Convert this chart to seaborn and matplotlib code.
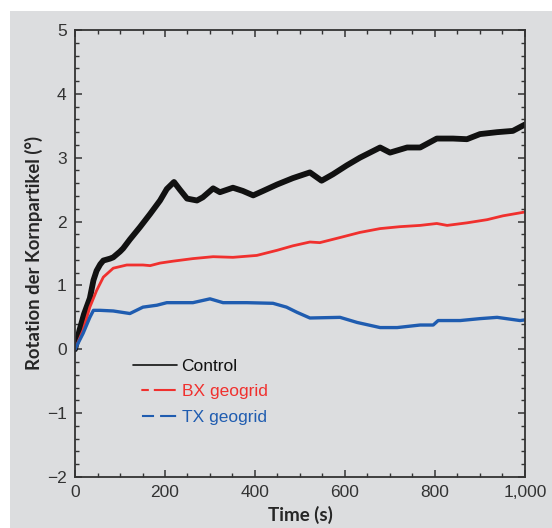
import numpy as np
import pandas as pd
import matplotlib
matplotlib.use('Agg')
import matplotlib.pyplot as plt
from matplotlib.lines import Line2D
from matplotlib.patches import Rectangle
from matplotlib.ticker import FuncFormatter, MultipleLocator
import seaborn as sns

# values (time in s, rotation in degrees)
t_control = [0, 10, 20, 33, 41, 48, 56, 63, 78, 85, 100, 107, 122, 144, 167,
             189, 204, 220, 233, 249, 271, 284, 307, 322, 351, 373, 396, 418,
             449, 484, 522, 548, 573, 604, 633, 678, 700, 738, 767, 804, 840,
             871, 900, 938, 973, 1000]
y_control = [0, 0.3, 0.55, 0.8, 1.08, 1.23, 1.33, 1.39, 1.42, 1.44, 1.53, 1.58,
             1.72, 1.91, 2.12, 2.33, 2.51, 2.62, 2.50, 2.36, 2.33, 2.38, 2.52,
             2.46, 2.53, 2.48, 2.41, 2.48, 2.58, 2.68, 2.77, 2.64, 2.74, 2.88,
             3.0, 3.16, 3.08, 3.16, 3.16, 3.30, 3.30, 3.29, 3.37, 3.40, 3.42,
             3.52]

t_bx = [0, 18, 33, 48, 63, 85, 115, 151, 167, 189, 218, 262, 307, 351, 404,
        449, 484, 522, 544, 589, 633, 678, 722, 767, 804, 827, 871, 916, 951,
        1000]
y_bx = [0, 0.3, 0.66, 0.92, 1.13, 1.27, 1.32, 1.32, 1.31, 1.35, 1.38, 1.42,
        1.45, 1.44, 1.47, 1.55, 1.62, 1.68, 1.67, 1.75, 1.83, 1.89, 1.92, 1.94,
        1.97, 1.94, 1.98, 2.03, 2.09, 2.15]

t_tx = [0, 18, 33, 41, 56, 85, 122, 151, 182, 204, 262, 300, 329, 382, 440,
        470, 493, 522, 589, 627, 678, 716, 767, 796, 807, 856, 900, 938, 989,
        1000]
y_tx = [0, 0.25, 0.5, 0.61, 0.61, 0.6, 0.56, 0.66, 0.69, 0.73, 0.73, 0.79,
        0.73, 0.73, 0.72, 0.66, 0.58, 0.49, 0.5, 0.42, 0.34, 0.34, 0.38, 0.38,
        0.45, 0.45, 0.48, 0.50, 0.45, 0.46]

labels = ['Control', 'BX geogrid', 'TX geogrid']
colors = ['#111111', '#f0302e', '#1f5cb0']

sns.set_theme(style='ticks')
plt.rcParams['font.family'] = ['Liberation Sans', 'DejaVu Sans']

bg = '#dcdddf'
fig = plt.figure(figsize=(5.52, 5.28), dpi=100, facecolor='white')
fig.patches.append(Rectangle((10 / 552, 0), 1, 517 / 528,
                             transform=fig.transFigure, facecolor=bg,
                             edgecolor='none', zorder=-10))
ax = fig.add_axes([75 / 552, 51 / 528, 450 / 552, 447 / 528])
ax.set_facecolor(bg)

sns.lineplot(x=t_control, y=y_control, ax=ax, color=colors[0], lw=4.2)
sns.lineplot(x=t_bx, y=y_bx, ax=ax, color=colors[1], lw=2.0)
sns.lineplot(x=t_tx, y=y_tx, ax=ax, color=colors[2], lw=2.4)

ax.set_xlim(0, 1000)
ax.set_ylim(-2, 5)
ax.xaxis.set_major_locator(MultipleLocator(200))
ax.xaxis.set_minor_locator(MultipleLocator(50))
ax.yaxis.set_major_locator(MultipleLocator(1))
ax.yaxis.set_minor_locator(MultipleLocator(0.2))
ax.xaxis.set_major_formatter(FuncFormatter(lambda v, p: f'{int(v):,}'))
ax.tick_params(which='both', direction='in', top=True, right=True,
               color='#333333')
ax.tick_params(which='major', length=5, width=1.1, labelsize=12.5,
               labelcolor='#333333', pad=6)
ax.tick_params(which='minor', length=3, width=1.0)
for s in ax.spines.values():
    s.set_color('#333333')
    s.set_linewidth(1.3)

ax.set_xlabel('Time (s)', fontsize=13.5, fontweight='bold', family='Lato',
              labelpad=4)
ax.set_ylabel('Rotation der Kornpartikel (°)', fontsize=13.3,
              fontweight='bold', family='Lato', labelpad=3)

# legend handles: dash patterns start with a short blank like the original
handles = [Line2D([], [], color=colors[0], lw=1.2),
           Line2D([], [], color=colors[1], lw=1.5,
                  ls=(16.5, (3.6, 2.4, 10.5, 4.0))),
           Line2D([], [], color=colors[2], lw=1.5,
                  ls=(16.4, (5.8, 2.9, 7.7, 4.3)))]
leg = ax.legend(handles, labels, loc='upper left', bbox_to_anchor=(0.094, 0.30),
                frameon=False, fontsize=12.5, handlelength=2.55,
                handletextpad=0.25, labelspacing=0.6, labelcolor=colors)

fig.savefig('out.png', dpi=100, facecolor=fig.get_facecolor())
